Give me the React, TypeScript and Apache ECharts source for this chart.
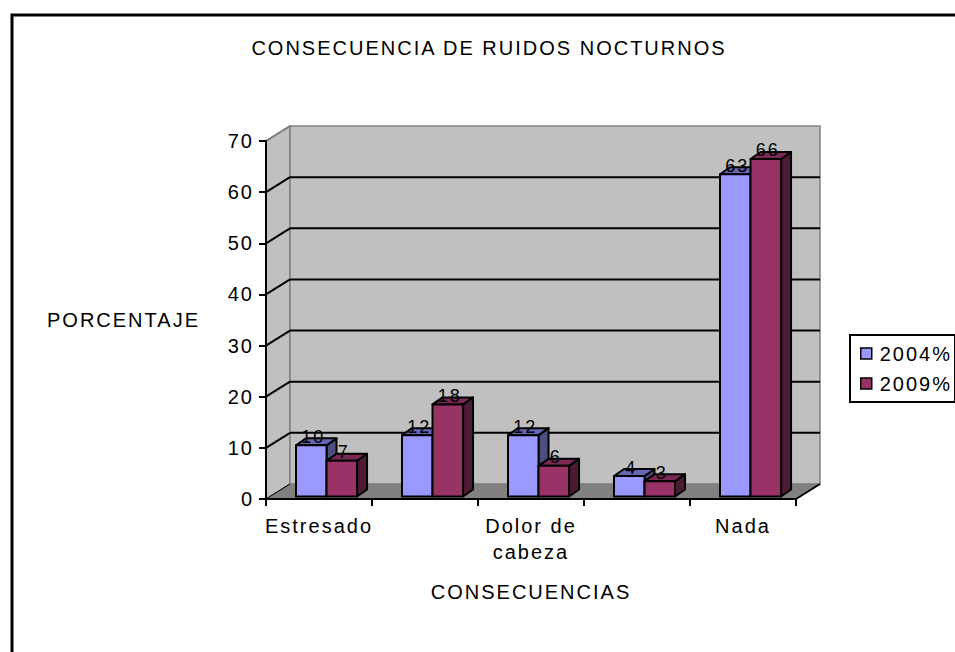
import React, { useEffect, useRef } from "react";
import * as echarts from "echarts";

const categories = ["Estresado", "", "Dolor de cabeza", " ", "Nada"];
const values2004 = [10, 12, 12, 4, 63];
const values2009 = [7, 18, 6, 3, 66];
const seriesNames = ["2004%", "2009%"];
const yTicks = [0, 10, 20, 30, 40, 50, 60, 70];

const FONT = "'Liberation Sans', Arial, sans-serif";
const FS = 20;
const frontColors = ["#9999FF", "#993366"];
const topColors = ["#6666B3", "#7A2952"];
const sideColors = ["#4D4D80", "#4D1A33"];

const WALL_DX = 24;
const WALL_DY = -15;

function makeBarRenderer(si: number) {
  return (params: any, api: any) => {
    const idx = api.value(0);
    const v = api.value(1);
    const pTop = api.coord([idx, v]);
    const pBase = api.coord([idx, 0]);
    const bw = api.size([1, 0])[0];
    const barW = bw * 0.288;
    const shiftX = bw * 0.071;
    const shiftY = -2.5;
    const left = pTop[0] + shiftX - barW + si * barW;
    const right = left + barW;
    const top = pTop[1] + shiftY;
    const bottom = pBase[1] + shiftY;
    const ddx = 10;
    const ddy = -7;
    const stroke = { stroke: "#000", lineWidth: 2, lineJoin: "round" };
    return {
      type: "group",
      children: [
        {
          type: "polygon",
          shape: { points: [[right, top], [right + ddx, top + ddy], [right + ddx, bottom + ddy], [right, bottom]] },
          style: { fill: sideColors[si], ...stroke },
        },
        {
          type: "polygon",
          shape: { points: [[left, top], [right, top], [right + ddx, top + ddy], [left + ddx, top + ddy]] },
          style: { fill: topColors[si], ...stroke },
        },
        {
          type: "polygon",
          shape: { points: [[left, top], [right, top], [right, bottom], [left, bottom]] },
          style: { fill: frontColors[si], ...stroke },
        },
        {
          type: "text",
          z2: 100,
          style: {
            text: String(v),
            x: (left + right) / 2 + 2,
            y: top - 8.5,
            align: "center",
            verticalAlign: "middle",
            textAlign: "center",
            textVerticalAlign: "middle",
            fontSize: 18,
            fontFamily: FONT,
            fill: "#000",
          },
        },
      ],
    };
  };
}

function renderWalls(params: any, api: any) {
  const cs = params.coordSys;
  const x0 = cs.x;
  const x1 = cs.x + cs.width;
  const yBottom = api.coord([0, yTicks[0]])[1];
  const yTop = api.coord([0, yTicks[yTicks.length - 1]])[1];
  const children: any[] = [];
  children.push({
    type: "polygon",
    shape: { points: [[x0, yTop], [x0 + WALL_DX, yTop + WALL_DY], [x0 + WALL_DX, yBottom + WALL_DY], [x0, yBottom]] },
    style: { fill: "#C0C0C0", stroke: "#808080", lineWidth: 1.5 },
  });
  children.push({
    type: "polygon",
    shape: {
      points: [
        [x0 + WALL_DX, yTop + WALL_DY],
        [x1 + WALL_DX, yTop + WALL_DY],
        [x1 + WALL_DX, yBottom + WALL_DY],
        [x0 + WALL_DX, yBottom + WALL_DY],
      ],
    },
    style: { fill: "#C0C0C0", stroke: "#808080", lineWidth: 1.5 },
  });
  children.push({
    type: "polygon",
    shape: {
      points: [
        [x0, yBottom],
        [x0 + WALL_DX, yBottom + WALL_DY],
        [x1 + WALL_DX, yBottom + WALL_DY],
        [x1, yBottom],
      ],
    },
    style: { fill: "#808080", stroke: "#808080", lineWidth: 1 },
  });
  children.push({
    type: "line",
    shape: { x1: x0, y1: yBottom, x2: x0 + WALL_DX, y2: yBottom + WALL_DY },
    style: { stroke: "#000", lineWidth: 1 },
  });
  children.push({
    type: "line",
    shape: { x1: x1, y1: yBottom, x2: x1 + WALL_DX, y2: yBottom + WALL_DY },
    style: { stroke: "#000", lineWidth: 2 },
  });
  for (let i = 1; i < yTicks.length - 1; i++) {
    const y = api.coord([0, yTicks[i]])[1];
    children.push({
      type: "line",
      shape: { x1: x0, y1: y, x2: x0 + WALL_DX, y2: y + WALL_DY },
      style: { stroke: "#000", lineWidth: 2 },
    });
    children.push({
      type: "line",
      shape: { x1: x0 + WALL_DX, y1: y + WALL_DY, x2: x1 + WALL_DX, y2: y + WALL_DY },
      style: { stroke: "#000", lineWidth: 2 },
    });
  }
  children.push({
    type: "line",
    shape: { x1: x0, y1: yTop, x2: x0 + WALL_DX, y2: yTop + WALL_DY },
    style: { stroke: "#808080", lineWidth: 2 },
  });
  return { type: "group", children };
}

export default function App() {
  const ref = useRef<HTMLDivElement>(null);
  useEffect(() => {
    if (!ref.current) return;
    const chart = echarts.init(ref.current, undefined, { renderer: "svg" });
    const axisLine = { show: true, lineStyle: { color: "#000", width: 2 } };
    chart.setOption({
      animation: false,
      backgroundColor: "#fff",
      textStyle: { fontFamily: FONT },
      grid: { left: 266, right: 159, top: 141, bottom: 153 },
      xAxis: {
        type: "category",
        data: categories,
        boundaryGap: true,
        axisLine,
        axisTick: { show: true, length: 7, lineStyle: { color: "#000", width: 2 } },
        axisLabel: {
          interval: 0,
          fontSize: FS,
          lineHeight: 26,
          color: "#000",
          margin: 14,
          fontFamily: FONT,
          formatter: (v: string) => v.replace(" cabeza", "\ncabeza"),
        },
        splitLine: { show: false },
      },
      yAxis: {
        type: "value",
        min: 0,
        max: 70,
        interval: 10,
        axisLine,
        axisTick: { show: true, length: 7, lineStyle: { color: "#000", width: 2 } },
        axisLabel: { fontSize: FS, color: "#000", margin: 12, fontFamily: FONT },
        splitLine: { show: false },
      },
      legend: {
        orient: "vertical",
        left: 850,
        top: 335,
        icon: "rect",
        itemWidth: 11,
        itemHeight: 11,
        itemGap: 9,
        padding: [8, 13, 8, 10],
        borderColor: "#000",
        borderWidth: 2,
        backgroundColor: "#fff",
        textStyle: { fontSize: FS, lineHeight: 21, color: "#000", fontFamily: FONT, padding: [0, 0, 0, 3] },
        data: seriesNames.map((n, i) => ({
          name: n,
          itemStyle: { color: frontColors[i], borderColor: "#000", borderWidth: 1.5 },
        })),
        selectedMode: false,
      },
      graphic: [
        {
          type: "rect",
          z: -10,
          shape: { x: 12, y: 15, width: 1000, height: 700 },
          style: { fill: "none", stroke: "#000", lineWidth: 3 },
        },
        {
          type: "text",
          x: 489,
          y: 48,
          style: {
            text: "CONSECUENCIA DE RUIDOS NOCTURNOS",
            align: "center",
            verticalAlign: "middle",
            textAlign: "center",
            textVerticalAlign: "middle",
            fontSize: FS,
            fontFamily: FONT,
            fill: "#000",
          },
        },
        {
          type: "text",
          x: 47,
          y: 320,
          style: {
            text: "PORCENTAJE",
            align: "left",
            verticalAlign: "middle",
            textAlign: "left",
            textVerticalAlign: "middle",
            fontSize: FS,
            fontFamily: FONT,
            fill: "#000",
          },
        },
        {
          type: "text",
          x: 531,
          y: 592,
          style: {
            text: "CONSECUENCIAS",
            align: "center",
            verticalAlign: "middle",
            textAlign: "center",
            textVerticalAlign: "middle",
            fontSize: FS,
            fontFamily: FONT,
            fill: "#000",
          },
        },
      ],
      series: [
        {
          type: "custom",
          name: "walls",
          z: -1,
          silent: true,
          renderItem: renderWalls,
          data: [[0, 0]],
        },
        {
          type: "custom",
          name: seriesNames[0],
          z: 2,
          renderItem: makeBarRenderer(0),
          data: values2004.map((v, i) => [i, v]),
        },
        {
          type: "custom",
          name: seriesNames[1],
          z: 3,
          renderItem: makeBarRenderer(1),
          data: values2009.map((v, i) => [i, v]),
        },
      ],
    });
    return () => chart.dispose();
  }, []);
  return (
    <>
      <style>{`.chart-root text { letter-spacing: 2px; }`}</style>
      <div
        ref={ref}
        className="chart-root"
        style={{ position: "fixed", left: 0, top: 0, width: 955, height: 652 }}
      />
    </>
  );
}
